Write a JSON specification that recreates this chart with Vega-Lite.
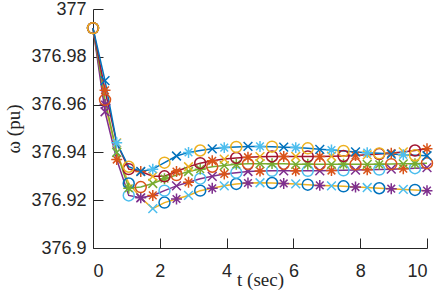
{
"$schema": "https://vega.github.io/schema/vega-lite/v6.json",
"width": 334, "height": 239,
"autosize": {"type": "none"},
"padding": {"left": 93, "top": 9, "right": 9, "bottom": 54},
"config": {
 "view": {"stroke": null},
 "axis": {"domainColor": "#262626", "tickColor": "#262626", "labelColor": "#262626", "titleColor": "#262626",
  "labelFont": "Liberation Sans", "labelFontSize": 18, "titleFont": "Liberation Serif", "titleFontSize": 19,
  "titleFontWeight": "normal", "grid": false, "tickSize": -10, "domainWidth": 1, "tickWidth": 1}
},
"data": {"values": [
{"c":"E","t":0,"y":376.992,"m":"Eo"},{"c":"E","t":0.36,"y":376.96,"m":"E*"},{"c":"E","t":0.71,"y":376.94,"m":"Ex"},{"c":"E","t":1.07,"y":376.927,"m":"Eo"},{"c":"E","t":1.43,"y":376.921,"m":"E*"},{"c":"E","t":1.79,"y":376.9165,"m":"Ex"},{"c":"E","t":2.14,"y":376.919,"m":"Eo"},{"c":"E","t":2.5,"y":376.9205,"m":"E*"},{"c":"E","t":2.86,"y":376.922,"m":"Ex"},{"c":"E","t":3.21,"y":376.924,"m":"Eo"},{"c":"E","t":3.57,"y":376.925,"m":"E*"},{"c":"E","t":3.93,"y":376.926,"m":"Ex"},{"c":"E","t":4.29,"y":376.9268,"m":"Eo"},{"c":"E","t":4.64,"y":376.9272,"m":"E*"},{"c":"E","t":5,"y":376.9273,"m":"Ex"},{"c":"E","t":5.36,"y":376.9272,"m":"Eo"},{"c":"E","t":5.71,"y":376.927,"m":"E*"},{"c":"E","t":6.07,"y":376.9268,"m":"Ex"},{"c":"E","t":6.43,"y":376.9265,"m":"Eo"},{"c":"E","t":6.79,"y":376.9262,"m":"E*"},{"c":"E","t":7.14,"y":376.926,"m":"Ex"},{"c":"E","t":7.5,"y":376.9258,"m":"Eo"},{"c":"E","t":7.86,"y":376.9255,"m":"E*"},{"c":"E","t":8.21,"y":376.9253,"m":"Ex"},{"c":"E","t":8.57,"y":376.925,"m":"Eo"},{"c":"E","t":8.93,"y":376.9248,"m":"E*"},{"c":"E","t":9.29,"y":376.9245,"m":"Ex"},{"c":"E","t":9.64,"y":376.9243,"m":"Eo"},{"c":"E","t":10,"y":376.924,"m":"E*"},
{"c":"D","t":0,"y":376.992,"m":"Do"},{"c":"D","t":0.36,"y":376.957,"m":"Dx"},{"c":"D","t":0.71,"y":376.937,"m":"D*"},{"c":"D","t":1.07,"y":376.922,"m":"Do"},{"c":"D","t":1.43,"y":376.921,"m":"Dx"},{"c":"D","t":1.79,"y":376.922,"m":"D*"},{"c":"D","t":2.14,"y":376.924,"m":"Do"},{"c":"D","t":2.5,"y":376.926,"m":"Dx"},{"c":"D","t":2.86,"y":376.9275,"m":"D*"},{"c":"D","t":3.21,"y":376.929,"m":"Do"},{"c":"D","t":3.57,"y":376.93,"m":"Dx"},{"c":"D","t":3.93,"y":376.931,"m":"D*"},{"c":"D","t":4.29,"y":376.9315,"m":"Do"},{"c":"D","t":4.64,"y":376.932,"m":"Dx"},{"c":"D","t":5,"y":376.9322,"m":"D*"},{"c":"D","t":5.36,"y":376.9323,"m":"Do"},{"c":"D","t":5.71,"y":376.9323,"m":"Dx"},{"c":"D","t":6.07,"y":376.9323,"m":"D*"},{"c":"D","t":6.43,"y":376.9323,"m":"Do"},{"c":"D","t":6.79,"y":376.9323,"m":"Dx"},{"c":"D","t":7.14,"y":376.9324,"m":"D*"},{"c":"D","t":7.5,"y":376.9325,"m":"Do"},{"c":"D","t":7.86,"y":376.9326,"m":"Dx"},{"c":"D","t":8.21,"y":376.9327,"m":"D*"},{"c":"D","t":8.57,"y":376.9328,"m":"Do"},{"c":"D","t":8.93,"y":376.933,"m":"Dx"},{"c":"D","t":9.29,"y":376.9332,"m":"D*"},{"c":"D","t":9.64,"y":376.9334,"m":"Do"},{"c":"D","t":10,"y":376.9336,"m":"Dx"},
{"c":"C","t":0,"y":376.992,"m":"Co"},{"c":"C","t":0.36,"y":376.962,"m":"Co"},{"c":"C","t":0.71,"y":376.94,"m":"Cx"},{"c":"C","t":1.07,"y":376.925,"m":"C*"},{"c":"C","t":1.43,"y":376.9255,"m":"Co"},{"c":"C","t":1.79,"y":376.927,"m":"Cx"},{"c":"C","t":2.14,"y":376.929,"m":"C*"},{"c":"C","t":2.5,"y":376.9305,"m":"Co"},{"c":"C","t":2.86,"y":376.932,"m":"Cx"},{"c":"C","t":3.21,"y":376.933,"m":"C*"},{"c":"C","t":3.57,"y":376.934,"m":"Co"},{"c":"C","t":3.93,"y":376.9345,"m":"Cx"},{"c":"C","t":4.29,"y":376.935,"m":"C*"},{"c":"C","t":4.64,"y":376.9352,"m":"Co"},{"c":"C","t":5,"y":376.9353,"m":"Cx"},{"c":"C","t":5.36,"y":376.9353,"m":"C*"},{"c":"C","t":5.71,"y":376.9352,"m":"Co"},{"c":"C","t":6.07,"y":376.935,"m":"Cx"},{"c":"C","t":6.43,"y":376.935,"m":"C*"},{"c":"C","t":6.79,"y":376.935,"m":"Co"},{"c":"C","t":7.14,"y":376.935,"m":"Cx"},{"c":"C","t":7.5,"y":376.935,"m":"C*"},{"c":"C","t":7.86,"y":376.935,"m":"Co"},{"c":"C","t":8.21,"y":376.935,"m":"Cx"},{"c":"C","t":8.57,"y":376.935,"m":"C*"},{"c":"C","t":8.93,"y":376.9351,"m":"Co"},{"c":"C","t":9.29,"y":376.9352,"m":"Cx"},{"c":"C","t":9.64,"y":376.9353,"m":"C*"},{"c":"C","t":10,"y":376.9355,"m":"Co"},
{"c":"B","t":0,"y":376.992,"m":"Bo"},{"c":"B","t":0.36,"y":376.966,"m":"B*"},{"c":"B","t":0.71,"y":376.944,"m":"Bx"},{"c":"B","t":1.07,"y":376.933,"m":"Bo"},{"c":"B","t":1.43,"y":376.932,"m":"B*"},{"c":"B","t":1.79,"y":376.93,"m":"Bx"},{"c":"B","t":2.14,"y":376.93,"m":"Bo"},{"c":"B","t":2.5,"y":376.932,"m":"B*"},{"c":"B","t":2.86,"y":376.934,"m":"Bx"},{"c":"B","t":3.21,"y":376.9355,"m":"Bo"},{"c":"B","t":3.57,"y":376.9365,"m":"B*"},{"c":"B","t":3.93,"y":376.9372,"m":"Bx"},{"c":"B","t":4.29,"y":376.9377,"m":"Bo"},{"c":"B","t":4.64,"y":376.938,"m":"B*"},{"c":"B","t":5,"y":376.9382,"m":"Bx"},{"c":"B","t":5.36,"y":376.9383,"m":"Bo"},{"c":"B","t":5.71,"y":376.9383,"m":"B*"},{"c":"B","t":6.07,"y":376.9383,"m":"Bx"},{"c":"B","t":6.43,"y":376.9383,"m":"Bo"},{"c":"B","t":6.79,"y":376.9383,"m":"B*"},{"c":"B","t":7.14,"y":376.9384,"m":"Bx"},{"c":"B","t":7.5,"y":376.9385,"m":"Bo"},{"c":"B","t":7.86,"y":376.9387,"m":"B*"},{"c":"B","t":8.21,"y":376.939,"m":"Bx"},{"c":"B","t":8.57,"y":376.9393,"m":"Bo"},{"c":"B","t":8.93,"y":376.9397,"m":"B*"},{"c":"B","t":9.29,"y":376.9402,"m":"Bx"},{"c":"B","t":9.64,"y":376.9408,"m":"Bo"},{"c":"B","t":10,"y":376.9415,"m":"B*"},
{"c":"A","t":0,"y":376.992,"m":"Ao"},{"c":"A","t":0.36,"y":376.97,"m":"Ax"},{"c":"A","t":0.71,"y":376.944,"m":"A*"},{"c":"A","t":1.07,"y":376.934,"m":"Ao"},{"c":"A","t":1.43,"y":376.932,"m":"Ax"},{"c":"A","t":1.79,"y":376.933,"m":"A*"},{"c":"A","t":2.14,"y":376.9357,"m":"Ao"},{"c":"A","t":2.5,"y":376.9385,"m":"Ax"},{"c":"A","t":2.86,"y":376.94,"m":"A*"},{"c":"A","t":3.21,"y":376.9408,"m":"Ao"},{"c":"A","t":3.57,"y":376.9415,"m":"Ax"},{"c":"A","t":3.93,"y":376.942,"m":"A*"},{"c":"A","t":4.29,"y":376.9423,"m":"Ao"},{"c":"A","t":4.64,"y":376.9425,"m":"Ax"},{"c":"A","t":5,"y":376.9425,"m":"A*"},{"c":"A","t":5.36,"y":376.9424,"m":"Ao"},{"c":"A","t":5.71,"y":376.9422,"m":"Ax"},{"c":"A","t":6.07,"y":376.942,"m":"A*"},{"c":"A","t":6.43,"y":376.9417,"m":"Ao"},{"c":"A","t":6.79,"y":376.9413,"m":"Ax"},{"c":"A","t":7.14,"y":376.941,"m":"A*"},{"c":"A","t":7.5,"y":376.9406,"m":"Ao"},{"c":"A","t":7.86,"y":376.9402,"m":"Ax"},{"c":"A","t":8.21,"y":376.9399,"m":"A*"},{"c":"A","t":8.57,"y":376.9396,"m":"Ao"},{"c":"A","t":8.93,"y":376.9393,"m":"Ax"},{"c":"A","t":9.29,"y":376.939,"m":"A*"},{"c":"A","t":9.64,"y":376.9388,"m":"Ao"},{"c":"A","t":10,"y":376.9386,"m":"Ax"}
]},
"encoding": {
 "x": {"field": "t", "type": "quantitative", "scale": {"domain": [0, 10], "nice": false},
  "axis": {"values": [0, 2, 4, 6, 8, 10], "title": "t (sec)", "labelPadding": 24, "titlePadding": -10}},
 "y": {"field": "y", "type": "quantitative", "scale": {"domain": [376.9, 377], "nice": false, "zero": false},
  "axis": {"values": [376.9, 376.92, 376.94, 376.96, 376.98, 377], "format": ".6~g", "title": "ω (pu)", "labelPadding": 17, "titlePadding": 7}}
},
"layer": [
 {"mark": {"type": "line", "strokeWidth": 1.5},
  "encoding": {"color": {"field": "c", "type": "nominal", "legend": null,
   "scale": {"domain": ["A", "B", "C", "D", "E"], "range": ["#0072BD", "#A2142F", "#77AC30", "#7E2F8E", "#EDB120"]}},
   "order": {"field": "t"}}},
 {"mark": {"type": "point", "filled": false, "strokeWidth": 1.5, "size": 120, "opacity": 1},
  "encoding": {
   "stroke": {"field": "m", "type": "nominal", "legend": null,
    "scale": {"domain": ["Ao", "A*", "Ax", "Bo", "B*", "Bx", "C*", "Co", "Cx", "Do", "Dx", "D*", "Eo", "E*", "Ex"],
     "range": ["#EDB120", "#4DBEEE", "#0072BD", "#A2142F", "#D95319", "#EDB120", "#77AC30", "#D95319", "#77AC30", "#4DBEEE", "#7E2F8E", "#D95319", "#0072BD", "#7E2F8E", "#4DBEEE"]}},
   "shape": {"field": "m", "type": "nominal", "legend": null,
    "scale": {"domain": ["Ao", "A*", "Ax", "Bo", "B*", "Bx", "C*", "Co", "Cx", "Do", "Dx", "D*", "Eo", "E*", "Ex"],
     "range": ["circle", "M-1,0L1,0M0,-1L0,1M-0.7,-0.7L0.7,0.7M-0.7,0.7L0.7,-0.7", "M-0.8,-0.8L0.8,0.8M-0.8,0.8L0.8,-0.8",
      "circle", "M-1,0L1,0M0,-1L0,1M-0.7,-0.7L0.7,0.7M-0.7,0.7L0.7,-0.7", "M-0.8,-0.8L0.8,0.8M-0.8,0.8L0.8,-0.8",
      "M-1,0L1,0M0,-1L0,1M-0.7,-0.7L0.7,0.7M-0.7,0.7L0.7,-0.7", "circle", "M-0.8,-0.8L0.8,0.8M-0.8,0.8L0.8,-0.8",
      "circle", "M-0.8,-0.8L0.8,0.8M-0.8,0.8L0.8,-0.8", "M-1,0L1,0M0,-1L0,1M-0.7,-0.7L0.7,0.7M-0.7,0.7L0.7,-0.7",
      "circle", "M-1,0L1,0M0,-1L0,1M-0.7,-0.7L0.7,0.7M-0.7,0.7L0.7,-0.7", "M-0.8,-0.8L0.8,0.8M-0.8,0.8L0.8,-0.8"]}}
  }}
]
}
